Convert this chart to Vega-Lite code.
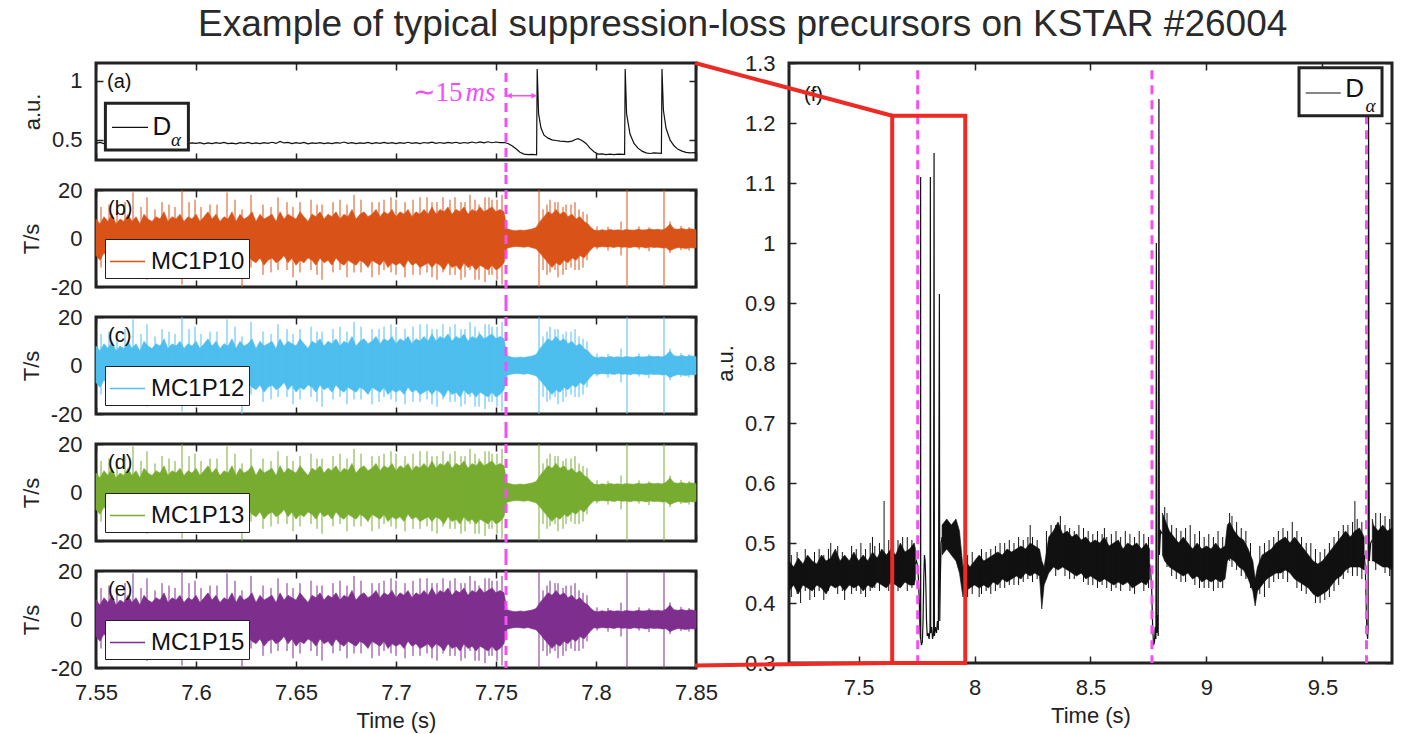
{
"$schema": "https://vega.github.io/schema/vega-lite/v6.json",
"padding": {"left": 18, "top": 5, "right": 5, "bottom": 5},
"background": "white",
"title": {"text": "Example of typical suppression-loss precursors on KSTAR #26004", "anchor": "middle", "dx": 36, "offset": 7},
"datasets": {
"mag": [{"t":7.55,"hi":8,"lo":-7},{"t":7.552,"hi":6,"lo":-9},{"t":7.554,"hi":9,"lo":-6},{"t":7.556,"hi":7,"lo":-8},{"t":7.558,"hi":10,"lo":-7},{"t":7.56,"hi":6,"lo":-10},{"t":7.562,"hi":8,"lo":-6},{"t":7.564,"hi":7,"lo":-9},{"t":7.566,"hi":10,"lo":-7},{"t":7.568,"hi":7,"lo":-10},{"t":7.57,"hi":9,"lo":-8},{"t":7.572,"hi":6,"lo":-7},{"t":7.574,"hi":10,"lo":-9},{"t":7.576,"hi":8,"lo":-11},{"t":7.578,"hi":7,"lo":-7},{"t":7.58,"hi":9,"lo":-10},{"t":7.582,"hi":8,"lo":-8},{"t":7.584,"hi":11,"lo":-7},{"t":7.586,"hi":7,"lo":-10},{"t":7.588,"hi":9,"lo":-8},{"t":7.59,"hi":8,"lo":-11},{"t":7.592,"hi":10,"lo":-8},{"t":7.594,"hi":7,"lo":-9},{"t":7.596,"hi":9,"lo":-7},{"t":7.598,"hi":8,"lo":-10},{"t":7.6,"hi":10,"lo":-8},{"t":7.602,"hi":7,"lo":-9},{"t":7.604,"hi":9,"lo":-11},{"t":7.606,"hi":11,"lo":-8},{"t":7.608,"hi":8,"lo":-10},{"t":7.61,"hi":10,"lo":-7},{"t":7.612,"hi":7,"lo":-9},{"t":7.614,"hi":9,"lo":-10},{"t":7.616,"hi":8,"lo":-8},{"t":7.618,"hi":11,"lo":-9},{"t":7.62,"hi":7,"lo":-11},{"t":7.622,"hi":10,"lo":-8},{"t":7.624,"hi":8,"lo":-10},{"t":7.626,"hi":9,"lo":-7},{"t":7.628,"hi":11,"lo":-9},{"t":7.63,"hi":7,"lo":-10},{"t":7.632,"hi":10,"lo":-8},{"t":7.634,"hi":8,"lo":-11},{"t":7.636,"hi":9,"lo":-9},{"t":7.638,"hi":10,"lo":-8},{"t":7.64,"hi":7,"lo":-10},{"t":7.642,"hi":11,"lo":-9},{"t":7.644,"hi":8,"lo":-7},{"t":7.646,"hi":10,"lo":-10},{"t":7.648,"hi":9,"lo":-8},{"t":7.65,"hi":8,"lo":-11},{"t":7.652,"hi":11,"lo":-9},{"t":7.654,"hi":9,"lo":-10},{"t":7.656,"hi":7,"lo":-8},{"t":7.658,"hi":10,"lo":-9},{"t":7.66,"hi":9,"lo":-11},{"t":7.662,"hi":11,"lo":-8},{"t":7.664,"hi":8,"lo":-10},{"t":7.666,"hi":10,"lo":-9},{"t":7.668,"hi":9,"lo":-11},{"t":7.67,"hi":11,"lo":-8},{"t":7.672,"hi":8,"lo":-10},{"t":7.674,"hi":10,"lo":-11},{"t":7.676,"hi":9,"lo":-9},{"t":7.678,"hi":12,"lo":-10},{"t":7.68,"hi":8,"lo":-11},{"t":7.682,"hi":10,"lo":-9},{"t":7.684,"hi":11,"lo":-10},{"t":7.686,"hi":9,"lo":-12},{"t":7.688,"hi":10,"lo":-9},{"t":7.69,"hi":12,"lo":-10},{"t":7.692,"hi":9,"lo":-11},{"t":7.694,"hi":11,"lo":-9},{"t":7.696,"hi":10,"lo":-12},{"t":7.698,"hi":12,"lo":-10},{"t":7.7,"hi":9,"lo":-11},{"t":7.702,"hi":11,"lo":-10},{"t":7.704,"hi":10,"lo":-12},{"t":7.706,"hi":12,"lo":-9},{"t":7.708,"hi":9,"lo":-11},{"t":7.71,"hi":11,"lo":-10},{"t":7.712,"hi":10,"lo":-12},{"t":7.714,"hi":12,"lo":-11},{"t":7.716,"hi":10,"lo":-10},{"t":7.718,"hi":13,"lo":-12},{"t":7.72,"hi":10,"lo":-10},{"t":7.722,"hi":12,"lo":-11},{"t":7.724,"hi":11,"lo":-13},{"t":7.726,"hi":13,"lo":-10},{"t":7.728,"hi":10,"lo":-12},{"t":7.73,"hi":12,"lo":-11},{"t":7.732,"hi":11,"lo":-13},{"t":7.734,"hi":13,"lo":-10},{"t":7.736,"hi":10,"lo":-12},{"t":7.738,"hi":12,"lo":-11},{"t":7.74,"hi":11,"lo":-13},{"t":7.742,"hi":13,"lo":-11},{"t":7.744,"hi":11,"lo":-12},{"t":7.746,"hi":12,"lo":-13},{"t":7.748,"hi":13,"lo":-11},{"t":7.75,"hi":11,"lo":-13},{"t":7.752,"hi":12,"lo":-12},{"t":7.754,"hi":11,"lo":-10},{"t":7.7555,"hi":4,"lo":-4},{"t":7.758,"hi":3.4,"lo":-3.5},{"t":7.76,"hi":3.2,"lo":-3.3},{"t":7.762,"hi":3.5,"lo":-3.4},{"t":7.764,"hi":3.3,"lo":-3.6},{"t":7.766,"hi":3.6,"lo":-3.3},{"t":7.768,"hi":3.9,"lo":-3.8},{"t":7.77,"hi":4.5,"lo":-4.2},{"t":7.772,"hi":7,"lo":-6},{"t":7.774,"hi":9,"lo":-8},{"t":7.776,"hi":11,"lo":-10},{"t":7.778,"hi":10,"lo":-12},{"t":7.78,"hi":12,"lo":-10},{"t":7.782,"hi":10,"lo":-11},{"t":7.784,"hi":11,"lo":-9},{"t":7.786,"hi":9,"lo":-10},{"t":7.788,"hi":10,"lo":-8},{"t":7.79,"hi":8,"lo":-9},{"t":7.792,"hi":9,"lo":-7},{"t":7.794,"hi":7,"lo":-8},{"t":7.796,"hi":6,"lo":-6},{"t":7.7975,"hi":4.5,"lo":-4.5},{"t":7.799,"hi":3.5,"lo":-3.4},{"t":7.801,"hi":3.2,"lo":-3.6},{"t":7.803,"hi":3.6,"lo":-3.3},{"t":7.805,"hi":3.3,"lo":-3.5},{"t":7.807,"hi":3.7,"lo":-3.4},{"t":7.809,"hi":3.4,"lo":-3.7},{"t":7.811,"hi":3.6,"lo":-3.3},{"t":7.813,"hi":3.3,"lo":-3.6},{"t":7.815,"hi":3.7,"lo":-3.5},{"t":7.817,"hi":3.5,"lo":-3.8},{"t":7.819,"hi":3.4,"lo":-3.4},{"t":7.821,"hi":3.8,"lo":-3.6},{"t":7.823,"hi":3.5,"lo":-3.5},{"t":7.825,"hi":3.6,"lo":-3.9},{"t":7.827,"hi":3.9,"lo":-3.5},{"t":7.829,"hi":3.6,"lo":-3.7},{"t":7.831,"hi":3.8,"lo":-3.6},{"t":7.833,"hi":3.5,"lo":-3.9},{"t":7.835,"hi":4.2,"lo":-3.8},{"t":7.837,"hi":6,"lo":-5},{"t":7.839,"hi":4,"lo":-4.2},{"t":7.841,"hi":3.8,"lo":-3.7},{"t":7.843,"hi":4.1,"lo":-3.9},{"t":7.845,"hi":3.7,"lo":-4.1},{"t":7.847,"hi":4,"lo":-3.8},{"t":7.849,"hi":3.8,"lo":-3.9},{"t":7.85,"hi":3.6,"lo":-3.7}],
"magspk": [{"t":7.5525,"hi":13,"lo":-12},{"t":7.5565,"hi":14,"lo":-11},{"t":7.5605,"hi":12,"lo":-14},{"t":7.5645,"hi":15,"lo":-11},{"t":7.5685,"hi":19,"lo":-12},{"t":7.5725,"hi":13,"lo":-13},{"t":7.5755,"hi":17,"lo":-17},{"t":7.5795,"hi":12,"lo":-15},{"t":7.583,"hi":15,"lo":-13},{"t":7.5865,"hi":14,"lo":-12},{"t":7.5895,"hi":13,"lo":-14},{"t":7.593,"hi":20,"lo":-19},{"t":7.5965,"hi":15,"lo":-12},{"t":7.5995,"hi":16,"lo":-13},{"t":7.6025,"hi":13,"lo":-15},{"t":7.607,"hi":14,"lo":-15},{"t":7.6105,"hi":14,"lo":-13},{"t":7.6155,"hi":19,"lo":-10},{"t":7.6195,"hi":16,"lo":-12},{"t":7.623,"hi":12,"lo":-20},{"t":7.6275,"hi":18,"lo":-12},{"t":7.6335,"hi":14,"lo":-15},{"t":7.6375,"hi":13,"lo":-14},{"t":7.641,"hi":17,"lo":-13},{"t":7.6455,"hi":15,"lo":-13},{"t":7.6485,"hi":13,"lo":-16},{"t":7.652,"hi":15,"lo":-14},{"t":7.6575,"hi":16,"lo":-13},{"t":7.6605,"hi":14,"lo":-15},{"t":7.663,"hi":14,"lo":-17},{"t":7.6685,"hi":15,"lo":-14},{"t":7.672,"hi":16,"lo":-13},{"t":7.6755,"hi":14,"lo":-16},{"t":7.679,"hi":18,"lo":-14},{"t":7.6825,"hi":16,"lo":-14},{"t":7.688,"hi":15,"lo":-16},{"t":7.6915,"hi":15,"lo":-15},{"t":7.694,"hi":16,"lo":-13},{"t":7.6975,"hi":17,"lo":-14},{"t":7.7,"hi":16,"lo":-15},{"t":7.7045,"hi":15,"lo":-16},{"t":7.7085,"hi":16,"lo":-15},{"t":7.712,"hi":17,"lo":-15},{"t":7.7155,"hi":17,"lo":-14},{"t":7.718,"hi":15,"lo":-16},{"t":7.7205,"hi":15,"lo":-17},{"t":7.7235,"hi":17,"lo":-14},{"t":7.727,"hi":16,"lo":-15},{"t":7.7295,"hi":17,"lo":-15},{"t":7.7325,"hi":15,"lo":-17},{"t":7.7345,"hi":15,"lo":-16},{"t":7.737,"hi":18,"lo":-13},{"t":7.7395,"hi":16,"lo":-17},{"t":7.7415,"hi":14,"lo":-17},{"t":7.7445,"hi":17,"lo":-18},{"t":7.7465,"hi":17,"lo":-15},{"t":7.748,"hi":16,"lo":-15},{"t":7.7505,"hi":16,"lo":-17},{"t":7.753,"hi":18,"lo":-19},{"t":7.7715,"hi":20,"lo":-20},{"t":7.7735,"hi":12,"lo":-13},{"t":7.7755,"hi":14,"lo":-15},{"t":7.777,"hi":16,"lo":-14},{"t":7.7795,"hi":15,"lo":-13},{"t":7.781,"hi":15,"lo":-16},{"t":7.7835,"hi":13,"lo":-15},{"t":7.785,"hi":14,"lo":-13},{"t":7.7875,"hi":14,"lo":-12},{"t":7.7895,"hi":15,"lo":-13},{"t":7.7915,"hi":12,"lo":-13},{"t":7.7935,"hi":11,"lo":-12},{"t":7.7955,"hi":10,"lo":-9},{"t":7.8005,"hi":5,"lo":-4.5},{"t":7.806,"hi":4.8,"lo":-5},{"t":7.8125,"hi":7,"lo":-7},{"t":7.8155,"hi":20,"lo":-20},{"t":7.8215,"hi":5,"lo":-4.6},{"t":7.8265,"hi":4.6,"lo":-5.2},{"t":7.834,"hi":20,"lo":-20},{"t":7.837,"hi":7,"lo":-6},{"t":7.8425,"hi":5.2,"lo":-4.8},{"t":7.8465,"hi":4.7,"lo":-5}],
"da": [{"t":7.55,"v":0.47},{"t":7.552,"v":0.478},{"t":7.554,"v":0.468},{"t":7.556,"v":0.475},{"t":7.558,"v":0.466},{"t":7.56,"v":0.474},{"t":7.562,"v":0.469},{"t":7.564,"v":0.48},{"t":7.566,"v":0.47},{"t":7.568,"v":0.477},{"t":7.57,"v":0.466},{"t":7.572,"v":0.476},{"t":7.574,"v":0.47},{"t":7.576,"v":0.479},{"t":7.578,"v":0.468},{"t":7.58,"v":0.474},{"t":7.582,"v":0.485},{"t":7.584,"v":0.472},{"t":7.586,"v":0.478},{"t":7.588,"v":0.467},{"t":7.59,"v":0.476},{"t":7.592,"v":0.47},{"t":7.594,"v":0.478},{"t":7.596,"v":0.468},{"t":7.598,"v":0.475},{"t":7.6,"v":0.47},{"t":7.602,"v":0.477},{"t":7.604,"v":0.466},{"t":7.606,"v":0.474},{"t":7.608,"v":0.469},{"t":7.61,"v":0.476},{"t":7.612,"v":0.47},{"t":7.614,"v":0.478},{"t":7.616,"v":0.468},{"t":7.618,"v":0.473},{"t":7.62,"v":0.467},{"t":7.622,"v":0.476},{"t":7.624,"v":0.47},{"t":7.626,"v":0.479},{"t":7.628,"v":0.469},{"t":7.63,"v":0.475},{"t":7.632,"v":0.468},{"t":7.634,"v":0.477},{"t":7.636,"v":0.471},{"t":7.638,"v":0.48},{"t":7.64,"v":0.47},{"t":7.642,"v":0.487},{"t":7.644,"v":0.474},{"t":7.646,"v":0.479},{"t":7.648,"v":0.469},{"t":7.65,"v":0.476},{"t":7.652,"v":0.47},{"t":7.654,"v":0.478},{"t":7.656,"v":0.467},{"t":7.658,"v":0.475},{"t":7.66,"v":0.47},{"t":7.662,"v":0.477},{"t":7.664,"v":0.468},{"t":7.666,"v":0.474},{"t":7.668,"v":0.469},{"t":7.67,"v":0.477},{"t":7.672,"v":0.472},{"t":7.674,"v":0.482},{"t":7.676,"v":0.47},{"t":7.678,"v":0.477},{"t":7.68,"v":0.468},{"t":7.682,"v":0.475},{"t":7.684,"v":0.47},{"t":7.686,"v":0.478},{"t":7.688,"v":0.469},{"t":7.69,"v":0.476},{"t":7.692,"v":0.471},{"t":7.694,"v":0.479},{"t":7.696,"v":0.47},{"t":7.698,"v":0.476},{"t":7.7,"v":0.468},{"t":7.702,"v":0.477},{"t":7.704,"v":0.471},{"t":7.706,"v":0.48},{"t":7.708,"v":0.47},{"t":7.71,"v":0.477},{"t":7.712,"v":0.469},{"t":7.714,"v":0.478},{"t":7.716,"v":0.472},{"t":7.718,"v":0.481},{"t":7.72,"v":0.471},{"t":7.722,"v":0.478},{"t":7.724,"v":0.47},{"t":7.726,"v":0.479},{"t":7.728,"v":0.472},{"t":7.73,"v":0.48},{"t":7.732,"v":0.471},{"t":7.734,"v":0.478},{"t":7.736,"v":0.473},{"t":7.738,"v":0.482},{"t":7.74,"v":0.474},{"t":7.742,"v":0.483},{"t":7.744,"v":0.475},{"t":7.746,"v":0.484},{"t":7.748,"v":0.476},{"t":7.75,"v":0.482},{"t":7.752,"v":0.477},{"t":7.754,"v":0.478},{"t":7.756,"v":0.47},{"t":7.758,"v":0.45},{"t":7.76,"v":0.425},{"t":7.762,"v":0.395},{"t":7.764,"v":0.38},{"t":7.766,"v":0.375},{"t":7.768,"v":0.377},{"t":7.7703,"v":0.374},{"t":7.7706,"v":1.1},{"t":7.7713,"v":0.72},{"t":7.7725,"v":0.6},{"t":7.774,"v":0.54},{"t":7.776,"v":0.515},{"t":7.778,"v":0.5},{"t":7.78,"v":0.495},{"t":7.782,"v":0.49},{"t":7.784,"v":0.487},{"t":7.786,"v":0.483},{"t":7.788,"v":0.49},{"t":7.79,"v":0.505},{"t":7.791,"v":0.51},{"t":7.793,"v":0.495},{"t":7.795,"v":0.47},{"t":7.797,"v":0.43},{"t":7.799,"v":0.4},{"t":7.801,"v":0.38},{"t":7.803,"v":0.382},{"t":7.805,"v":0.375},{"t":7.807,"v":0.38},{"t":7.809,"v":0.376},{"t":7.811,"v":0.38},{"t":7.8143,"v":0.377},{"t":7.8146,"v":1.1},{"t":7.8153,"v":0.72},{"t":7.817,"v":0.55},{"t":7.819,"v":0.47},{"t":7.821,"v":0.43},{"t":7.823,"v":0.405},{"t":7.825,"v":0.39},{"t":7.827,"v":0.385},{"t":7.829,"v":0.39},{"t":7.8327,"v":0.387},{"t":7.833,"v":1.1},{"t":7.8337,"v":0.75},{"t":7.835,"v":0.6},{"t":7.837,"v":0.5},{"t":7.839,"v":0.45},{"t":7.841,"v":0.42},{"t":7.843,"v":0.405},{"t":7.845,"v":0.395},{"t":7.847,"v":0.39},{"t":7.85,"v":0.392}],
"fb": [{"g":1,"t":7.2,"hi":0.47,"lo":0.42},{"g":1,"t":7.22,"hi":0.46,"lo":0.43},{"g":1,"t":7.24,"hi":0.475,"lo":0.415},{"g":1,"t":7.26,"hi":0.465,"lo":0.43},{"g":1,"t":7.28,"hi":0.48,"lo":0.425},{"g":1,"t":7.3,"hi":0.47,"lo":0.42},{"g":1,"t":7.32,"hi":0.465,"lo":0.43},{"g":1,"t":7.34,"hi":0.48,"lo":0.425},{"g":1,"t":7.36,"hi":0.47,"lo":0.415},{"g":1,"t":7.38,"hi":0.475,"lo":0.43},{"g":1,"t":7.4,"hi":0.49,"lo":0.425},{"g":1,"t":7.42,"hi":0.47,"lo":0.43},{"g":1,"t":7.44,"hi":0.48,"lo":0.42},{"g":1,"t":7.46,"hi":0.47,"lo":0.43},{"g":1,"t":7.48,"hi":0.485,"lo":0.425},{"g":1,"t":7.5,"hi":0.47,"lo":0.43},{"g":1,"t":7.52,"hi":0.48,"lo":0.42},{"g":1,"t":7.54,"hi":0.47,"lo":0.43},{"g":1,"t":7.56,"hi":0.485,"lo":0.425},{"g":1,"t":7.58,"hi":0.475,"lo":0.435},{"g":1,"t":7.6,"hi":0.49,"lo":0.43},{"g":1,"t":7.62,"hi":0.48,"lo":0.425},{"g":1,"t":7.64,"hi":0.49,"lo":0.435},{"g":1,"t":7.66,"hi":0.48,"lo":0.43},{"g":1,"t":7.68,"hi":0.5,"lo":0.425},{"g":1,"t":7.7,"hi":0.485,"lo":0.435},{"g":1,"t":7.72,"hi":0.49,"lo":0.43},{"g":1,"t":7.74,"hi":0.5,"lo":0.43},{"g":1,"t":7.745,"hi":0.49,"lo":0.44},
{"g":2,"t":7.86,"hi":0.53,"lo":0.48},{"g":2,"t":7.88,"hi":0.54,"lo":0.49},{"g":2,"t":7.9,"hi":0.53,"lo":0.48},{"g":2,"t":7.92,"hi":0.54,"lo":0.47},{"g":2,"t":7.935,"hi":0.52,"lo":0.45},{"g":2,"t":7.95,"hi":0.46,"lo":0.41},{"g":2,"t":7.96,"hi":0.47,"lo":0.42},{"g":2,"t":7.98,"hi":0.46,"lo":0.425},{"g":2,"t":8.0,"hi":0.47,"lo":0.43},{"g":2,"t":8.02,"hi":0.48,"lo":0.425},{"g":2,"t":8.04,"hi":0.47,"lo":0.43},{"g":2,"t":8.06,"hi":0.475,"lo":0.425},{"g":2,"t":8.08,"hi":0.48,"lo":0.435},{"g":2,"t":8.1,"hi":0.485,"lo":0.43},{"g":2,"t":8.12,"hi":0.48,"lo":0.44},{"g":2,"t":8.14,"hi":0.49,"lo":0.435},{"g":2,"t":8.16,"hi":0.485,"lo":0.44},{"g":2,"t":8.18,"hi":0.49,"lo":0.445},{"g":2,"t":8.2,"hi":0.495,"lo":0.44},{"g":2,"t":8.22,"hi":0.49,"lo":0.45},{"g":2,"t":8.24,"hi":0.5,"lo":0.445},{"g":2,"t":8.26,"hi":0.495,"lo":0.45},{"g":2,"t":8.28,"hi":0.49,"lo":0.445},{"g":2,"t":8.29,"hi":0.47,"lo":0.39},{"g":2,"t":8.3,"hi":0.46,"lo":0.43},{"g":2,"t":8.32,"hi":0.51,"lo":0.45},{"g":2,"t":8.34,"hi":0.52,"lo":0.46},{"g":2,"t":8.36,"hi":0.535,"lo":0.455},{"g":2,"t":8.38,"hi":0.515,"lo":0.46},{"g":2,"t":8.4,"hi":0.52,"lo":0.455},{"g":2,"t":8.42,"hi":0.51,"lo":0.45},{"g":2,"t":8.44,"hi":0.515,"lo":0.445},{"g":2,"t":8.46,"hi":0.505,"lo":0.45},{"g":2,"t":8.48,"hi":0.51,"lo":0.44},{"g":2,"t":8.5,"hi":0.5,"lo":0.445},{"g":2,"t":8.52,"hi":0.505,"lo":0.44},{"g":2,"t":8.54,"hi":0.5,"lo":0.435},{"g":2,"t":8.56,"hi":0.51,"lo":0.44},{"g":2,"t":8.58,"hi":0.495,"lo":0.435},{"g":2,"t":8.6,"hi":0.5,"lo":0.43},{"g":2,"t":8.62,"hi":0.505,"lo":0.435},{"g":2,"t":8.64,"hi":0.49,"lo":0.43},{"g":2,"t":8.66,"hi":0.5,"lo":0.435},{"g":2,"t":8.68,"hi":0.495,"lo":0.425},{"g":2,"t":8.7,"hi":0.5,"lo":0.43},{"g":2,"t":8.72,"hi":0.49,"lo":0.435},{"g":2,"t":8.74,"hi":0.5,"lo":0.43},{"g":2,"t":8.755,"hi":0.49,"lo":0.44},
{"g":3,"t":8.81,"hi":0.55,"lo":0.48},{"g":3,"t":8.82,"hi":0.54,"lo":0.47},{"g":3,"t":8.84,"hi":0.52,"lo":0.46},{"g":3,"t":8.86,"hi":0.51,"lo":0.455},{"g":3,"t":8.88,"hi":0.5,"lo":0.45},{"g":3,"t":8.9,"hi":0.51,"lo":0.445},{"g":3,"t":8.92,"hi":0.5,"lo":0.45},{"g":3,"t":8.94,"hi":0.49,"lo":0.44},{"g":3,"t":8.96,"hi":0.5,"lo":0.445},{"g":3,"t":8.98,"hi":0.49,"lo":0.435},{"g":3,"t":9.0,"hi":0.495,"lo":0.44},{"g":3,"t":9.02,"hi":0.49,"lo":0.435},{"g":3,"t":9.04,"hi":0.5,"lo":0.44},{"g":3,"t":9.06,"hi":0.49,"lo":0.435},{"g":3,"t":9.08,"hi":0.495,"lo":0.44},{"g":3,"t":9.09,"hi":0.53,"lo":0.47},{"g":3,"t":9.1,"hi":0.535,"lo":0.475},{"g":3,"t":9.12,"hi":0.52,"lo":0.47},{"g":3,"t":9.14,"hi":0.51,"lo":0.46},{"g":3,"t":9.16,"hi":0.505,"lo":0.455},{"g":3,"t":9.18,"hi":0.49,"lo":0.44},{"g":3,"t":9.2,"hi":0.47,"lo":0.42},{"g":3,"t":9.21,"hi":0.44,"lo":0.395},{"g":3,"t":9.22,"hi":0.46,"lo":0.42},{"g":3,"t":9.24,"hi":0.48,"lo":0.43},{"g":3,"t":9.26,"hi":0.485,"lo":0.44},{"g":3,"t":9.28,"hi":0.49,"lo":0.445},{"g":3,"t":9.3,"hi":0.5,"lo":0.45},{"g":3,"t":9.32,"hi":0.505,"lo":0.45},{"g":3,"t":9.34,"hi":0.51,"lo":0.455},{"g":3,"t":9.36,"hi":0.5,"lo":0.45},{"g":3,"t":9.38,"hi":0.51,"lo":0.44},{"g":3,"t":9.4,"hi":0.5,"lo":0.435},{"g":3,"t":9.42,"hi":0.49,"lo":0.43},{"g":3,"t":9.44,"hi":0.48,"lo":0.425},{"g":3,"t":9.46,"hi":0.47,"lo":0.415},{"g":3,"t":9.48,"hi":0.465,"lo":0.41},{"g":3,"t":9.5,"hi":0.47,"lo":0.415},{"g":3,"t":9.52,"hi":0.48,"lo":0.42},{"g":3,"t":9.54,"hi":0.49,"lo":0.43},{"g":3,"t":9.56,"hi":0.5,"lo":0.44},{"g":3,"t":9.58,"hi":0.51,"lo":0.445},{"g":3,"t":9.6,"hi":0.52,"lo":0.455},{"g":3,"t":9.62,"hi":0.51,"lo":0.46},{"g":3,"t":9.64,"hi":0.52,"lo":0.46},{"g":3,"t":9.66,"hi":0.525,"lo":0.46},{"g":3,"t":9.68,"hi":0.51,"lo":0.455},
{"g":4,"t":9.715,"hi":0.54,"lo":0.47},{"g":4,"t":9.72,"hi":0.53,"lo":0.47},{"g":4,"t":9.74,"hi":0.52,"lo":0.465},{"g":4,"t":9.76,"hi":0.53,"lo":0.46},{"g":4,"t":9.78,"hi":0.52,"lo":0.46},{"g":4,"t":9.8,"hi":0.525,"lo":0.455}],
"fsp": [{"t":7.21,"hi":0.48,"lo":0.41},{"t":7.235,"hi":0.485,"lo":0.415},{"t":7.25,"hi":0.47,"lo":0.4},{"t":7.27,"hi":0.49,"lo":0.42},{"t":7.29,"hi":0.47,"lo":0.405},{"t":7.31,"hi":0.485,"lo":0.41},{"t":7.33,"hi":0.49,"lo":0.42},{"t":7.35,"hi":0.48,"lo":0.405},{"t":7.37,"hi":0.49,"lo":0.42},{"t":7.38,"hi":0.5,"lo":0.43},{"t":7.41,"hi":0.495,"lo":0.415},{"t":7.43,"hi":0.485,"lo":0.42},{"t":7.44,"hi":0.475,"lo":0.405},{"t":7.47,"hi":0.495,"lo":0.415},{"t":7.49,"hi":0.49,"lo":0.42},{"t":7.51,"hi":0.5,"lo":0.415},{"t":7.53,"hi":0.49,"lo":0.41},{"t":7.55,"hi":0.5,"lo":0.42},{"t":7.56,"hi":0.51,"lo":0.44},{"t":7.57,"hi":0.495,"lo":0.425},{"t":7.59,"hi":0.5,"lo":0.42},{"t":7.61,"hi":0.57,"lo":0.44},{"t":7.63,"hi":0.505,"lo":0.42},{"t":7.65,"hi":0.5,"lo":0.425},{"t":7.67,"hi":0.505,"lo":0.42},{"t":7.69,"hi":0.51,"lo":0.44},{"t":7.71,"hi":0.51,"lo":0.42},{"t":7.73,"hi":0.505,"lo":0.425},{"t":7.97,"hi":0.48,"lo":0.41},{"t":7.99,"hi":0.485,"lo":0.415},{"t":8.02,"hi":0.46,"lo":0.41},{"t":8.03,"hi":0.49,"lo":0.415},{"t":8.05,"hi":0.485,"lo":0.42},{"t":8.07,"hi":0.49,"lo":0.415},{"t":8.09,"hi":0.495,"lo":0.42},{"t":8.11,"hi":0.5,"lo":0.425},{"t":8.13,"hi":0.5,"lo":0.425},{"t":8.15,"hi":0.505,"lo":0.43},{"t":8.17,"hi":0.5,"lo":0.43},{"t":8.19,"hi":0.51,"lo":0.43},{"t":8.21,"hi":0.505,"lo":0.435},{"t":8.23,"hi":0.51,"lo":0.44},{"t":8.24,"hi":0.53,"lo":0.45},{"t":8.25,"hi":0.51,"lo":0.435},{"t":8.27,"hi":0.505,"lo":0.44},{"t":8.31,"hi":0.52,"lo":0.44},{"t":8.33,"hi":0.53,"lo":0.46},{"t":8.35,"hi":0.53,"lo":0.445},{"t":8.37,"hi":0.545,"lo":0.46},{"t":8.39,"hi":0.53,"lo":0.445},{"t":8.41,"hi":0.525,"lo":0.44},{"t":8.43,"hi":0.52,"lo":0.44},{"t":8.45,"hi":0.53,"lo":0.45},{"t":8.47,"hi":0.525,"lo":0.435},{"t":8.49,"hi":0.52,"lo":0.43},{"t":8.51,"hi":0.515,"lo":0.43},{"t":8.53,"hi":0.52,"lo":0.425},{"t":8.55,"hi":0.515,"lo":0.43},{"t":8.56,"hi":0.525,"lo":0.44},{"t":8.57,"hi":0.51,"lo":0.425},{"t":8.59,"hi":0.515,"lo":0.42},{"t":8.61,"hi":0.52,"lo":0.425},{"t":8.63,"hi":0.51,"lo":0.42},{"t":8.65,"hi":0.52,"lo":0.44},{"t":8.67,"hi":0.515,"lo":0.42},{"t":8.69,"hi":0.51,"lo":0.415},{"t":8.71,"hi":0.52,"lo":0.435},{"t":8.73,"hi":0.515,"lo":0.42},{"t":8.75,"hi":0.51,"lo":0.425},{"t":8.82,"hi":0.56,"lo":0.48},{"t":8.83,"hi":0.55,"lo":0.46},{"t":8.85,"hi":0.53,"lo":0.445},{"t":8.87,"hi":0.525,"lo":0.44},{"t":8.89,"hi":0.52,"lo":0.435},{"t":8.91,"hi":0.525,"lo":0.435},{"t":8.93,"hi":0.53,"lo":0.45},{"t":8.95,"hi":0.515,"lo":0.43},{"t":8.97,"hi":0.52,"lo":0.425},{"t":8.99,"hi":0.51,"lo":0.425},{"t":9.01,"hi":0.515,"lo":0.425},{"t":9.03,"hi":0.51,"lo":0.42},{"t":9.05,"hi":0.52,"lo":0.425},{"t":9.07,"hi":0.51,"lo":0.425},{"t":9.1,"hi":0.55,"lo":0.47},{"t":9.11,"hi":0.545,"lo":0.46},{"t":9.13,"hi":0.535,"lo":0.455},{"t":9.15,"hi":0.525,"lo":0.445},{"t":9.17,"hi":0.52,"lo":0.44},{"t":9.19,"hi":0.5,"lo":0.425},{"t":9.23,"hi":0.495,"lo":0.415},{"t":9.25,"hi":0.5,"lo":0.41},{"t":9.27,"hi":0.505,"lo":0.425},{"t":9.29,"hi":0.51,"lo":0.435},{"t":9.31,"hi":0.52,"lo":0.44},{"t":9.33,"hi":0.525,"lo":0.44},{"t":9.35,"hi":0.52,"lo":0.435},{"t":9.37,"hi":0.535,"lo":0.45},{"t":9.39,"hi":0.52,"lo":0.425},{"t":9.41,"hi":0.51,"lo":0.42},{"t":9.43,"hi":0.5,"lo":0.415},{"t":9.45,"hi":0.5,"lo":0.42},{"t":9.47,"hi":0.49,"lo":0.4},{"t":9.49,"hi":0.485,"lo":0.4},{"t":9.51,"hi":0.49,"lo":0.405},{"t":9.53,"hi":0.5,"lo":0.41},{"t":9.55,"hi":0.51,"lo":0.42},{"t":9.57,"hi":0.52,"lo":0.43},{"t":9.59,"hi":0.53,"lo":0.44},{"t":9.61,"hi":0.53,"lo":0.45},{"t":9.63,"hi":0.535,"lo":0.445},{"t":9.64,"hi":0.57,"lo":0.46},{"t":9.65,"hi":0.54,"lo":0.445},{"t":9.67,"hi":0.535,"lo":0.44},{"t":9.73,"hi":0.55,"lo":0.455},{"t":9.75,"hi":0.55,"lo":0.47},{"t":9.77,"hi":0.545,"lo":0.45},{"t":9.79,"hi":0.54,"lo":0.445}],
"fev": [{"g":1,"t":7.745,"v":0.465},{"g":1,"t":7.75,"v":0.47},{"g":1,"t":7.755,"v":0.46},{"g":1,"t":7.758,"v":0.44},{"g":1,"t":7.762,"v":0.4},{"g":1,"t":7.765,"v":0.35},{"g":1,"t":7.767,"v":0.34},{"g":1,"t":7.7675,"v":1.11},{"g":1,"t":7.768,"v":0.34},{"g":1,"t":7.771,"v":0.33},{"g":1,"t":7.775,"v":0.335},{"g":1,"t":7.778,"v":0.37},{"g":1,"t":7.781,"v":0.44},{"g":1,"t":7.784,"v":0.48},{"g":1,"t":7.787,"v":0.47},{"g":1,"t":7.79,"v":0.43},{"g":1,"t":7.793,"v":0.37},{"g":1,"t":7.796,"v":0.345},{"g":1,"t":7.8,"v":0.35},{"g":1,"t":7.804,"v":0.34},{"g":1,"t":7.808,"v":0.355},{"g":1,"t":7.8095,"v":1.11},{"g":1,"t":7.811,"v":0.35},{"g":1,"t":7.815,"v":0.36},{"g":1,"t":7.819,"v":0.34},{"g":1,"t":7.823,"v":0.35},{"g":1,"t":7.8255,"v":1.15},{"g":1,"t":7.827,"v":0.345},{"g":1,"t":7.831,"v":0.36},{"g":1,"t":7.836,"v":0.35},{"g":1,"t":7.84,"v":0.37},{"g":1,"t":7.844,"v":0.355},{"g":1,"t":7.8485,"v":0.915},{"g":1,"t":7.85,"v":0.37},{"g":1,"t":7.853,"v":0.45},{"g":1,"t":7.856,"v":0.5},{"g":1,"t":7.86,"v":0.51},
{"g":2,"t":8.755,"v":0.465},{"g":2,"t":8.76,"v":0.45},{"g":2,"t":8.764,"v":0.42},{"g":2,"t":8.768,"v":0.36},{"g":2,"t":8.772,"v":0.33},{"g":2,"t":8.776,"v":0.335},{"g":2,"t":8.779,"v":0.36},{"g":2,"t":8.782,"v":0.34},{"g":2,"t":8.784,"v":1.0},{"g":2,"t":8.786,"v":0.35},{"g":2,"t":8.789,"v":0.38},{"g":2,"t":8.792,"v":0.345},{"g":2,"t":8.795,"v":1.24},{"g":2,"t":8.797,"v":0.48},{"g":2,"t":8.802,"v":0.52},{"g":2,"t":8.81,"v":0.515},
{"g":3,"t":9.68,"v":0.48},{"g":3,"t":9.685,"v":0.46},{"g":3,"t":9.689,"v":0.39},{"g":3,"t":9.692,"v":0.35},{"g":3,"t":9.695,"v":0.34},{"g":3,"t":9.697,"v":0.36},{"g":3,"t":9.699,"v":1.215},{"g":3,"t":9.702,"v":0.47},{"g":3,"t":9.708,"v":0.5},{"g":3,"t":9.715,"v":0.505}],
"ev": [{"t":7.755},{"t":8.765},{"t":9.69}]
},
"hconcat": [
{"vconcat": [
{"width": 600, "height": 97, "resolve": {"axis": {"x": "independent", "y": "independent"}}, "layer": [
 {"layer": [
 {"data": {"name": "da"}, "mark": {"type": "line", "color": "#111", "strokeWidth": 1.2},
  "encoding": {"x": {"field": "t", "type": "quantitative", "scale": {"domain": [7.55, 7.85], "nice": false}, "axis": {"values": [7.55,7.6,7.65,7.7,7.75,7.8,7.85], "labels": false, "title": null}},
   "y": {"field": "v", "type": "quantitative", "scale": {"domain": [0.33, 1.15], "nice": false}, "axis": {"values": [0.5, 1, 1.15], "title": "a.u.", "labelOverlap": false, "labelExpr": "datum.value > 1.1 ? ' ' : ''+datum.value", "tickColor": {"condition": {"test": "datum.value > 1.1", "value": "transparent"}, "value": "#222"}}}}},
 {"data": {"values": [{}]}, "mark": {"type": "rule", "color": "#F44EF4", "strokeWidth": 1.5}, "encoding": {"x": {"datum": 7.7558}, "x2": {"datum": 7.7698}, "y": {"datum": 0.873}}},
 {"data": {"values": [{}]}, "mark": {"type": "point", "shape": "triangle-left", "filled": true, "color": "#F44EF4", "size": 35, "opacity": 1}, "encoding": {"x": {"datum": 7.7566}, "y": {"datum": 0.873}}},
 {"data": {"values": [{}]}, "mark": {"type": "point", "shape": "triangle-right", "filled": true, "color": "#F44EF4", "size": 35, "opacity": 1}, "encoding": {"x": {"datum": 7.769}, "y": {"datum": 0.873}}},
 {"data": {"values": [{}]}, "mark": {"type": "text", "text": "∼15", "align": "right", "baseline": "alphabetic", "font": "Liberation Serif", "fontSize": 27, "color": "#F44EF4"}, "encoding": {"x": {"datum": 7.7333}, "y": {"datum": 0.829}}},
 {"data": {"values": [{}]}, "mark": {"type": "text", "text": "ms", "align": "left", "baseline": "alphabetic", "font": "Liberation Serif", "fontStyle": "italic", "fontSize": 27, "color": "#F44EF4"}, "encoding": {"x": {"datum": 7.7348}, "y": {"datum": 0.829}}},
 {"data": {"values": [{}]}, "mark": {"type": "rect", "fill": "white", "stroke": "#222", "strokeWidth": 3}, "encoding": {"x": {"datum": 7.5547}, "x2": {"datum": 7.5962}, "y": {"datum": 0.809}, "y2": {"datum": 0.415}}},
 {"data": {"values": [{}]}, "mark": {"type": "rule", "color": "#111", "strokeWidth": 1.2}, "encoding": {"x": {"datum": 7.558}, "x2": {"datum": 7.576}, "y": {"datum": 0.606}}},
 {"data": {"values": [{}]}, "mark": {"type": "text", "text": "D", "align": "left", "baseline": "alphabetic", "fontSize": 26}, "encoding": {"x": {"datum": 7.5783}, "y": {"datum": 0.541}}},
 {"data": {"values": [{}]}, "mark": {"type": "text", "text": "α", "align": "left", "baseline": "alphabetic", "font": "Liberation Serif", "fontStyle": "italic", "fontSize": 19}, "encoding": {"x": {"datum": 7.5875}, "y": {"datum": 0.45}}},
 {"data": {"values": [{}]}, "mark": {"type": "text", "text": "(a)", "align": "left", "baseline": "middle", "fontSize": 20}, "encoding": {"x": {"datum": 7.5555}, "y": {"datum": 0.99}}}
 ]},
 {"data": {"values": [{}]}, "mark": {"type": "rule", "color": "#F44EF4", "strokeWidth": 3, "strokeDash": [9, 6]}, "encoding": {"x": {"datum": 7.755, "axis": {"orient": "top", "values": [7.55,7.6,7.65,7.7,7.75,7.8,7.85], "labels": false, "title": null}}, "y": {"datum": 1.065, "axis": {"orient": "right", "values": [0.5, 1], "labels": false, "title": null}}, "y2": {"datum": 0.203}}}
]},
{"width": 600, "height": 97, "resolve": {"axis": {"x": "independent", "y": "independent"}}, "layer": [
 {"layer": [
 {"data": {"name": "mag"}, "mark": {"type": "area", "fill": "#D95319", "strokeWidth": 0.6},
  "encoding": {"x": {"field": "t", "type": "quantitative", "scale": {"domain": [7.55, 7.85], "nice": false}, "axis": {"values": [7.55,7.6,7.65,7.7,7.75,7.8,7.85], "labels": false, "title": null}},
   "y": {"field": "hi", "type": "quantitative", "scale": {"domain": [-20, 20], "nice": false}, "axis": {"values": [-20, 0, 20], "title": "T/s", "labelExpr": "''+datum.value"}},
   "y2": {"field": "lo"},
   "stroke": {"datum": "MC1P10", "scale": {"range": ["#D95319"]}, "legend": {"title": null, "encode": {"legend": {"update": {"strokeWidth": {"value": 3}}}}}}}},
 {"data": {"name": "magspk"}, "mark": {"type": "rule", "color": "#D95319", "strokeWidth": 1}, "encoding": {"x": {"field": "t", "type": "quantitative"}, "y": {"field": "hi", "type": "quantitative"}, "y2": {"field": "lo"}}},
 {"data": {"values": [{}]}, "mark": {"type": "text", "text": "(b)", "align": "left", "baseline": "middle", "fontSize": 20}, "encoding": {"x": {"datum": 7.556}, "y": {"datum": 12}}}
 ]},
 {"data": {"values": [{}]}, "mark": {"type": "rule", "color": "#F44EF4", "strokeWidth": 3, "strokeDash": [9, 6]}, "encoding": {"x": {"datum": 7.755, "axis": {"orient": "top", "values": [7.55,7.6,7.65,7.7,7.75,7.8,7.85], "labels": false, "title": null}}, "y": {"datum": 26.2, "axis": {"orient": "right", "values": [-20, 0, 20], "labels": false, "title": null}}, "y2": {"datum": -26.2}}}
]},
{"width": 600, "height": 97, "resolve": {"axis": {"x": "independent", "y": "independent"}}, "layer": [
 {"layer": [
 {"data": {"name": "mag"}, "mark": {"type": "area", "fill": "#4DBEEE", "strokeWidth": 0.6},
  "encoding": {"x": {"field": "t", "type": "quantitative", "scale": {"domain": [7.55, 7.85], "nice": false}, "axis": {"values": [7.55,7.6,7.65,7.7,7.75,7.8,7.85], "labels": false, "title": null}},
   "y": {"field": "hi", "type": "quantitative", "scale": {"domain": [-20, 20], "nice": false}, "axis": {"values": [-20, 0, 20], "title": "T/s", "labelExpr": "''+datum.value"}},
   "y2": {"field": "lo"},
   "stroke": {"datum": "MC1P12", "scale": {"range": ["#4DBEEE"]}, "legend": {"title": null, "encode": {"legend": {"update": {"strokeWidth": {"value": 3}}}}}}}},
 {"data": {"name": "magspk"}, "mark": {"type": "rule", "color": "#4DBEEE", "strokeWidth": 1}, "encoding": {"x": {"field": "t", "type": "quantitative"}, "y": {"field": "hi", "type": "quantitative"}, "y2": {"field": "lo"}}},
 {"data": {"values": [{}]}, "mark": {"type": "text", "text": "(c)", "align": "left", "baseline": "middle", "fontSize": 20}, "encoding": {"x": {"datum": 7.556}, "y": {"datum": 12}}}
 ]},
 {"data": {"values": [{}]}, "mark": {"type": "rule", "color": "#F44EF4", "strokeWidth": 3, "strokeDash": [9, 6]}, "encoding": {"x": {"datum": 7.755, "axis": {"orient": "top", "values": [7.55,7.6,7.65,7.7,7.75,7.8,7.85], "labels": false, "title": null}}, "y": {"datum": 26.2, "axis": {"orient": "right", "values": [-20, 0, 20], "labels": false, "title": null}}, "y2": {"datum": -26.2}}}
]},
{"width": 600, "height": 97, "resolve": {"axis": {"x": "independent", "y": "independent"}}, "layer": [
 {"layer": [
 {"data": {"name": "mag"}, "mark": {"type": "area", "fill": "#77AC30", "strokeWidth": 0.6},
  "encoding": {"x": {"field": "t", "type": "quantitative", "scale": {"domain": [7.55, 7.85], "nice": false}, "axis": {"values": [7.55,7.6,7.65,7.7,7.75,7.8,7.85], "labels": false, "title": null}},
   "y": {"field": "hi", "type": "quantitative", "scale": {"domain": [-20, 20], "nice": false}, "axis": {"values": [-20, 0, 20], "title": "T/s", "labelExpr": "''+datum.value"}},
   "y2": {"field": "lo"},
   "stroke": {"datum": "MC1P13", "scale": {"range": ["#77AC30"]}, "legend": {"title": null, "encode": {"legend": {"update": {"strokeWidth": {"value": 3}}}}}}}},
 {"data": {"name": "magspk"}, "mark": {"type": "rule", "color": "#77AC30", "strokeWidth": 1}, "encoding": {"x": {"field": "t", "type": "quantitative"}, "y": {"field": "hi", "type": "quantitative"}, "y2": {"field": "lo"}}},
 {"data": {"values": [{}]}, "mark": {"type": "text", "text": "(d)", "align": "left", "baseline": "middle", "fontSize": 20}, "encoding": {"x": {"datum": 7.556}, "y": {"datum": 12}}}
 ]},
 {"data": {"values": [{}]}, "mark": {"type": "rule", "color": "#F44EF4", "strokeWidth": 3, "strokeDash": [9, 6]}, "encoding": {"x": {"datum": 7.755, "axis": {"orient": "top", "values": [7.55,7.6,7.65,7.7,7.75,7.8,7.85], "labels": false, "title": null}}, "y": {"datum": 26.2, "axis": {"orient": "right", "values": [-20, 0, 20], "labels": false, "title": null}}, "y2": {"datum": -26.2}}}
]},
{"width": 600, "height": 97, "resolve": {"axis": {"x": "independent", "y": "independent"}}, "layer": [
 {"layer": [
 {"data": {"name": "mag"}, "mark": {"type": "area", "fill": "#7E2F8E", "strokeWidth": 0.6},
  "encoding": {"x": {"field": "t", "type": "quantitative", "scale": {"domain": [7.55, 7.85], "nice": false}, "axis": {"values": [7.55,7.6,7.65,7.7,7.75,7.8,7.85], "format": "~g", "title": "Time (s)"}},
   "y": {"field": "hi", "type": "quantitative", "scale": {"domain": [-20, 20], "nice": false}, "axis": {"values": [-20, 0, 20], "title": "T/s", "labelExpr": "''+datum.value"}},
   "y2": {"field": "lo"},
   "stroke": {"datum": "MC1P15", "scale": {"range": ["#7E2F8E"]}, "legend": {"title": null, "encode": {"legend": {"update": {"strokeWidth": {"value": 3}}}}}}}},
 {"data": {"name": "magspk"}, "mark": {"type": "rule", "color": "#7E2F8E", "strokeWidth": 1}, "encoding": {"x": {"field": "t", "type": "quantitative"}, "y": {"field": "hi", "type": "quantitative"}, "y2": {"field": "lo"}}},
 {"data": {"values": [{}]}, "mark": {"type": "text", "text": "(e)", "align": "left", "baseline": "middle", "fontSize": 20}, "encoding": {"x": {"datum": 7.556}, "y": {"datum": 12}}}
 ]},
 {"data": {"values": [{}]}, "mark": {"type": "rule", "color": "#F44EF4", "strokeWidth": 3, "strokeDash": [9, 6]}, "encoding": {"x": {"datum": 7.755, "axis": {"orient": "top", "values": [7.55,7.6,7.65,7.7,7.75,7.8,7.85], "labels": false, "title": null}}, "y": {"datum": 26.2, "axis": {"orient": "right", "values": [-20, 0, 20], "labels": false, "title": null}}, "y2": {"datum": -20}}}
]}
], "spacing": 30, "bounds": "flush",
 "resolve": {"scale": {"x": "shared", "y": "independent", "stroke": "independent"}, "legend": {"stroke": "independent"}}},
{"width": 603, "height": 600, "resolve": {"axis": {"x": "independent", "y": "independent"}}, "layer": [
 {"layer": [
 {"data": {"name": "fb"}, "mark": {"type": "area", "fill": "#111", "stroke": "#111", "strokeWidth": 0.6},
  "encoding": {"x": {"field": "t", "type": "quantitative", "scale": {"domain": [7.2, 9.8], "nice": false}, "axis": {"values": [7.5, 8, 8.5, 9, 9.5], "format": "~g", "title": "Time (s)"}},
   "y": {"field": "hi", "type": "quantitative", "scale": {"domain": [0.3, 1.3], "nice": false}, "axis": {"values": [0.3,0.4,0.5,0.6,0.7,0.8,0.9,1,1.1,1.2,1.3], "title": "a.u.", "labelExpr": "''+datum.value"}},
   "y2": {"field": "lo"}, "detail": {"field": "g"}}},
 {"data": {"name": "fsp"}, "mark": {"type": "rule", "color": "#111", "strokeWidth": 1}, "encoding": {"x": {"field": "t", "type": "quantitative"}, "y": {"field": "hi", "type": "quantitative"}, "y2": {"field": "lo"}}},
 {"data": {"name": "fev"}, "mark": {"type": "line", "color": "#111", "strokeWidth": 1.2}, "encoding": {"x": {"field": "t", "type": "quantitative"}, "y": {"field": "v", "type": "quantitative"}, "detail": {"field": "g"}}},
 {"data": {"name": "ev"}, "mark": {"type": "rule", "color": "#F44EF4", "strokeWidth": 3, "strokeDash": [9, 6]}, "encoding": {"x": {"field": "t", "type": "quantitative"}, "y": {"datum": 1.288}, "y2": {"datum": 0.3}}},
 {"data": {"values": [{}]}, "mark": {"type": "text", "text": "(f)", "align": "left", "baseline": "middle", "fontSize": 20}, "encoding": {"x": {"datum": 7.265}, "y": {"datum": 1.247}}},
 {"data": {"values": [{}]}, "mark": {"type": "rect", "filled": false, "color": "#EE2A24", "strokeWidth": 4}, "encoding": {"x": {"datum": 7.645}, "x2": {"datum": 7.96}, "y": {"datum": 1.212}, "y2": {"datum": 0.3}}},
 {"data": {"values": [{}]}, "mark": {"type": "rule", "color": "#EE2A24", "strokeWidth": 4}, "encoding": {"x": {"datum": 6.795}, "y": {"datum": 1.3}, "x2": {"datum": 7.645}, "y2": {"datum": 1.212}}},
 {"data": {"values": [{}]}, "mark": {"type": "rect", "fill": "white", "stroke": "#222", "strokeWidth": 3}, "encoding": {"x": {"datum": 9.399}, "x2": {"datum": 9.757}, "y": {"datum": 1.292}, "y2": {"datum": 1.212}}},
 {"data": {"values": [{}]}, "mark": {"type": "rule", "color": "#111", "strokeWidth": 1.2}, "encoding": {"x": {"datum": 9.428}, "x2": {"datum": 9.579}, "y": {"datum": 1.25}}},
 {"data": {"values": [{}]}, "mark": {"type": "text", "text": "D", "align": "left", "baseline": "alphabetic", "fontSize": 26}, "encoding": {"x": {"datum": 9.598}, "y": {"datum": 1.243}}},
 {"data": {"values": [{}]}, "mark": {"type": "text", "text": "α", "align": "left", "baseline": "alphabetic", "font": "Liberation Serif", "fontStyle": "italic", "fontSize": 19}, "encoding": {"x": {"datum": 9.686}, "y": {"datum": 1.219}}}
 ]},
 {"data": {"values": [{}]}, "mark": {"type": "rule", "color": "#EE2A24", "strokeWidth": 4}, "encoding": {"x": {"datum": 6.795, "axis": {"orient": "top", "values": [7.5, 8, 8.5, 9, 9.5], "labels": false, "title": null}}, "y": {"datum": 0.296, "axis": {"orient": "right", "values": [0.3,0.4,0.5,0.6,0.7,0.8,0.9,1,1.1,1.2,1.3], "labels": false, "title": null}}, "x2": {"datum": 7.645}, "y2": {"datum": 0.3}}}
]}
],
"spacing": -28,
"resolve": {"scale": {"x": "independent", "y": "independent"}},
"config": {
 "view": {"stroke": "#222", "strokeWidth": 3},
 "axis": {"grid": false, "domain": false, "labelFont": "Liberation Sans", "labelFontSize": 22, "labelColor": "#222", "titleFont": "Liberation Sans", "titleFontSize": 22, "titleFontWeight": "normal", "titleColor": "#222", "tickColor": "#222", "tickWidth": 1.5, "tickSize": -7, "labelPadding": 21, "labelFlush": false, "titlePadding": 7},
 "title": {"font": "Liberation Sans", "fontSize": 37, "fontWeight": "normal", "color": "#2a2a2a"},
 "text": {"font": "Liberation Sans", "color": "#111"},
 "legend": {"orient": "bottom-left", "offset": 9, "padding": 4, "strokeColor": "#222", "fillColor": "white", "symbolType": "stroke", "symbolSize": 1225, "symbolStrokeWidth": 1.5, "labelFont": "Liberation Sans", "labelFontSize": 24, "labelColor": "#111", "labelLimit": 0, "labelOffset": 5}
}
}
